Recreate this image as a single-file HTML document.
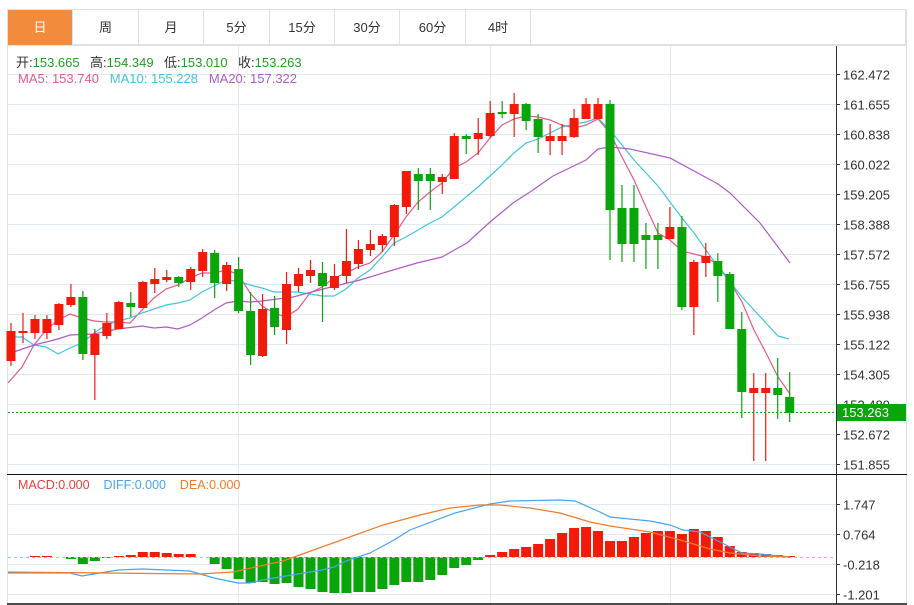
<!DOCTYPE html>
<html><head><meta charset="utf-8">
<style>
html,body{margin:0;padding:0;background:#fff;}
body{width:914px;height:605px;position:relative;overflow:hidden;font-family:"Liberation Sans","Noto Sans CJK SC",sans-serif;}
.tabs{position:absolute;left:7px;top:9px;width:899px;height:36px;border:1px solid #dde2e6;box-sizing:border-box;}
.tab{position:absolute;top:0;height:35px;line-height:35px;text-align:center;font-size:13px;color:#333;border-right:1px solid #dde2e6;box-sizing:border-box;}
.tab.on{background:#f28c3c;color:#fff;}
.leg{position:absolute;font-size:13px;white-space:nowrap;}
</style></head><body>
<div class="tabs">
<div class="tab on" style="left:0;width:65px">日</div>
<div class="tab" style="left:65px;width:66px">周</div>
<div class="tab" style="left:131px;width:65px">月</div>
<div class="tab" style="left:196px;width:66px">5分</div>
<div class="tab" style="left:262px;width:65px">15分</div>
<div class="tab" style="left:327px;width:65px">30分</div>
<div class="tab" style="left:392px;width:66px">60分</div>
<div class="tab" style="left:458px;width:65px">4时</div>
</div>
<svg id="s" width="914" height="605" style="position:absolute;left:0;top:0" xmlns="http://www.w3.org/2000/svg"></svg>
<div class="leg" style="left:16px;top:52px;color:#333">开:<span style="color:#1fa01f">153.665</span></div>
<div class="leg" style="left:90px;top:52px;color:#333">高:<span style="color:#1fa01f">154.349</span></div>
<div class="leg" style="left:164px;top:52px;color:#333">低:<span style="color:#1fa01f">153.010</span></div>
<div class="leg" style="left:238px;top:52px;color:#333">收:<span style="color:#1fa01f">153.263</span></div>
<div class="leg" style="left:18px;top:71px"><span style="color:#e8588a">MA5: 153.740</span>&nbsp;&nbsp; <span style="color:#3ec6dc">MA10: 155.228</span>&nbsp;&nbsp; <span style="color:#b05cc8">MA20: 157.322</span></div>
<div class="leg" style="left:18px;top:478px;font-size:12.5px"><span style="color:#e84040">MACD:0.000</span>&nbsp;&nbsp;&nbsp; <span style="color:#4aa3f0">DIFF:0.000</span>&nbsp;&nbsp;&nbsp; <span style="color:#f07c2c">DEA:0.000</span></div>
<script>
var s=document.getElementById('s'),h='';
function L(x1,y1,x2,y2,c,w,d){h+='<line x1="'+x1+'" y1="'+y1+'" x2="'+x2+'" y2="'+y2+'" stroke="'+c+'" stroke-width="'+(w||1)+'"'+(d?' stroke-dasharray="'+d+'"':'')+'/>';}
function T(x,y,t,c,sz){h+='<text x="'+x+'" y="'+y+'" fill="'+(c||'#333')+'" font-size="'+(sz||13)+'" font-family="Liberation Sans,sans-serif">'+t+'</text>';}
L(7.5,45,7.5,604,'#dde2e6');L(906.5,9,906.5,604,'#dde2e6');
L(7,45.5,907,45.5,'#dde2e6');
var labs=['162.472','161.655','160.838','160.022','159.205','158.388','157.572','156.755','155.938','155.122','154.305','153.489','152.672','151.855'];
for(var i=0;i<14;i++){var y=74.5+30*i;L(8,y,836,y,'#e2eaf0');L(836,y,840,y,'#333');T(843,y+5,labs[i]);}
[238.5,490.5,670.5].forEach(function(x){L(x,46,x,474,'#e2eaf0');L(x,475,x,604,'#e2eaf0');});
var ml=[['1.747',504.5],['0.764',534.5],['-0.218',564.5],['-1.201',594.5]];
ml.forEach(function(m){L(8,m[1],836,m[1],'#e2eaf0');L(836,m[1],840,m[1],'#333');T(843,m[1]+5,m[0]);});
L(836.5,46,836.5,604,'#333');
L(7,474.5,907,474.5,'#111');L(7,604,907,604,'#111',1.5);
var C=[[1,331,361,323,366],[1,331,333,313,343],[1,319,333,315,339],[1,319,333,315,339],[1,304,325,303,330],[1,297,305,284,307],[0,297,354,291,360],[1,334,355,329,400],[1,323,336,313,339],[1,302,329,301,329],[0,303,307,292,317],[1,282,308,281,308],[1,279,284,268,293],[1,277,280,270,282],[0,277,283,276,287],[1,269,282,267,290],[1,252,271,249,277],[0,253,283,250,298],[1,265,284,262,291],[0,269,311,257,313],[0,311,355,292,365],[1,309,356,294,357],
[0,308,327,296,335],[1,284,330,272,344],[1,274,286,268,292],[1,270,276,260,283],[0,273,286,262,322],[1,276,288,264,290],[1,261,276,229,283],[1,249,264,240,269],[1,244,250,230,256],[1,236,245,234,252],[1,205,237,204,246],[1,171,207,171,214],[0,174,181,168,210],[0,174,181,168,210],[1,177,182,174,194],[1,136,179,133,179],[0,136,139,134,154],[1,133,139,118,155],[1,113,136,101,138],[0,112,114,101,118],[1,104,114,93,137],[0,104,121,103,130],
[0,119,137,114,153],[1,136,141,124,155],[1,136,141,124,155],[1,118,137,109,138],[1,104,119,98,119],[1,104,119,98,119],[0,104,210,100,260],[0,208,244,185,262],[0,208,244,185,262],[0,235,240,223,269],[0,235,240,223,269],[1,227,239,207,239],[0,227,307,216,310],[1,262,307,260,335],[1,256,263,243,277],[0,261,276,253,302],[0,274,329,272,329],[0,329,392,312,418],[1,388,393,373,461],[1,388,393,373,461],[0,388,395,358,419],[0,397,413,372,422]];
function X(i){return 11+11.98*i;}
function P(pts,c){h+='<polyline fill="none" stroke="'+c+'" stroke-width="1.2" points="'+pts.map(function(p){return p.join(',')}).join(' ')+'"/>';}
P([[8,383],[22,367],[34,345],[46,330],[58,320],[70,314],[82,318],[94,321],[106,322],[118,322],[130,323],[142,310],[154,298],[166,289],[178,285],[190,278],[202,273],[214,273],[226,270],[238,274],[250,293],[262,306],[274,313],[286,317],[298,309],[310,293],[322,287],[334,278],[346,273],[358,267],[370,263],[382,252],[394,235],[406,217],[418,202],[430,192],[442,183],[454,168],[466,162],[478,153],[490,138],[502,125],[514,119],[526,116],[538,117],[550,120],[562,125],[574,128],[586,125],[598,119],[610,133],[622,157],[634,180],[646,207],[658,233],[670,240],[682,251],[694,254],[706,257],[718,265],[730,282],[742,302],[754,330],[766,353],[778,377],[790,394]],'#e8588a');
P([[8,337],[22,337],[34,345],[46,347],[58,354],[70,348],[82,343],[94,333],[106,325],[118,321],[130,318],[142,313],[154,309],[166,305],[178,303],[190,300],[202,292],[214,286],[226,280],[238,281],[250,285],[262,288],[274,292],[286,292],[298,292],[310,294],[322,296],[334,296],[346,289],[358,278],[370,270],[382,257],[394,243],[406,237],[418,230],[430,223],[442,217],[454,207],[466,197],[478,187],[490,176],[502,165],[514,153],[526,143],[538,139],[550,133],[562,127],[574,124],[586,122],[598,118],[610,130],[622,145],[634,160],[646,173],[658,186],[670,202],[682,218],[694,233],[706,250],[718,267],[730,282],[742,297],[754,310],[766,323],[778,336],[789,339]],'#3ec6dc');
P([[8,354],[34,345],[58,339],[70,335],[94,334],[118,329],[142,326],[154,328],[166,327],[178,329],[190,325],[202,318],[214,310],[226,303],[238,301],[250,302],[262,301],[293,297],[327,288],[360,280],[393,270],[417,263],[442,257],[467,243],[490,222],[513,203],[530,192],[553,176],[586,160],[598,149],[610,147],[630,149],[670,158],[718,184],[730,193],[760,223],[790,263]],'#b05cc8');
C.forEach(function(c,i){var x=X(i),col=c[0]?'#f31a0a':'#0aa50a';L(x,c[3],x,c[4],col,1.2);h+='<rect x="'+(x-4.5)+'" y="'+c[1]+'" width="9" height="'+Math.max(1.5,c[2]-c[1])+'" fill="'+col+'"/>';});
L(8,412.5,836,412.5,'#1fa01f',1,'2,2');
h+='<rect x="837" y="404" width="69" height="17" fill="#0aa50a"/>';T(842,417,'153.263','#fff');
var Z=557,M=[557,557,556,556,557,559,564,561,558,556,555,552,552,553,554,554,557,564,569,579,583,582,584,583,587,589,592,593,593,592,592,589,585,582,582,580,575,568,565,560,555,552,549,547,544,539,533,528,527,531,541,541,537,533,531,531,534,529,531,537,546,552,553,554,555,556];
M.forEach(function(v,i){var x=X(i);if(v==Z)return;var col=v<Z?'#f31a0a':'#0aa50a';h+='<rect x="'+(x-5)+'" y="'+Math.min(v,Z)+'" width="10" height="'+Math.abs(v-Z)+'" fill="'+col+'"/>';});
L(8,557.5,836,557.5,'#7fd0e8',1,'3,3');
P([[8,573],[70,573],[82,576],[118,570],[142,569],[190,571],[214,578],[238,583],[250,583],[262,580],[286,576],[310,572],[322,570],[334,567],[346,561],[370,553],[394,540],[410,530],[455,513],[490,504],[510,501],[560,500],[575,501],[600,512],[610,517],[650,521],[670,525],[683,530],[700,532],[720,542],[730,547],[742,553],[760,554],[790,557]],'#4aa3f0');
P([[8,572],[200,574],[233,572],[283,561],[333,543],[383,525],[420,515],[450,508],[480,505],[500,505],[530,508],[560,513],[590,522],[610,526],[650,532],[680,540],[710,549],[730,553],[760,556],[790,557]],'#f07c2c');
s.innerHTML=h;
</script>
</body></html>
